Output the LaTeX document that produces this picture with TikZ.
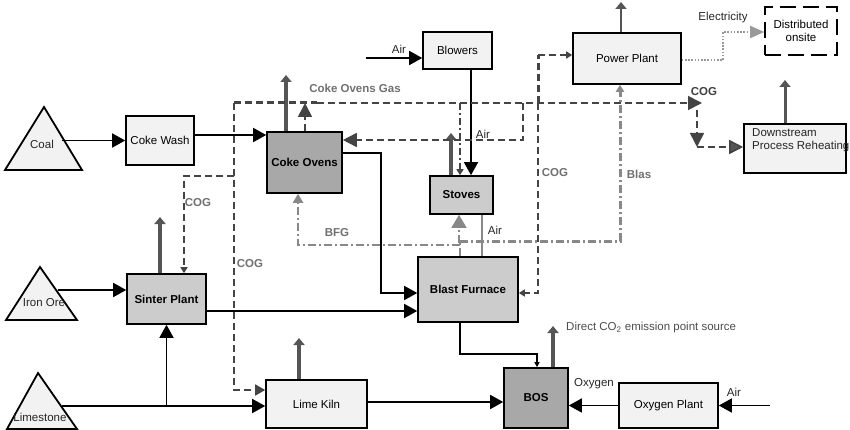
\documentclass[tikz,border=0pt]{standalone}
\usepackage{fontspec}
\setmainfont{Liberation Sans}
\usetikzlibrary{arrows.meta,calc}
\definecolor{light}{HTML}{F2F2F2}
\definecolor{mid}{HTML}{CCCCCC}
\definecolor{dark}{HTML}{A8A8A8}
\definecolor{heavyc}{HTML}{555555}
\definecolor{cogc}{HTML}{444444}
\definecolor{bfgc}{HTML}{888888}
\definecolor{labc}{HTML}{707070}
\definecolor{elecc}{HTML}{999999}
\newcommand\myfs{\fontsize{11.5}{13}\selectfont}
\tikzset{
  box/.style={draw=black, line width=1.6pt, inner sep=1pt, font=\myfs},
  lightbox/.style={box, fill=light},
  midbox/.style={box, fill=mid, font=\myfs\bfseries},
  darkbox/.style={box, fill=dark, font=\myfs\bfseries},
  dashbox/.style={box, fill=white, dash pattern=on 16pt off 7pt, align=center},
  tri/.style={draw=black, line width=1.8pt, fill=light, line join=miter},
  lab/.style={font=\myfs, inner sep=0pt, text=black!85},
  glab/.style={font=\myfs\bfseries, inner sep=0pt, text=labc},
  flow/.style={draw=black, line width=1.5pt, -{Triangle[length=13pt,width=14pt]}},
  smallflow/.style={draw=black, line width=1.5pt, -{Triangle[length=5pt,width=5pt]}},
  heavy/.style={draw=heavyc, line width=3.6pt, -{Triangle[length=7pt,width=11pt]}},
  cog/.style={draw=cogc, line width=1.6pt, dash pattern=on 7pt off 4pt},
  cogthick/.style={cog, line width=3pt},
  cogdd/.style={draw=cogc, line width=1.6pt, dash pattern=on 7pt off 3pt on 2pt off 3pt},
  bigtip/.style={-{Triangle[length=14pt,width=14pt]}},
  midtip/.style={-{Triangle[length=10pt,width=11pt]}},
  smalltip/.style={-{Triangle[length=6pt,width=7pt]}},
  bfg/.style={draw=bfgc, line width=1.6pt, dash pattern=on 8pt off 3pt on 2pt off 3pt},
  bfgthick/.style={bfg, line width=3pt},
  airline/.style={draw=bfgc, line width=1.4pt},
  elec/.style={draw=elecc, line width=1.8pt, dash pattern=on 1.6pt off 1.6pt}
}
\begin{document}
\begin{tikzpicture}[x=1pt,y=-1pt]
\useasboundingbox (0,0) rectangle (850,430);

% raw materials (triangles)
\draw[tri] (5,170) -- (44,107) -- (82,170) -- cycle;
\node[lab] (coal) at (42,144) {Coal};
\coordinate (coalout) at (62,140.5);
\draw[tri] (6,320) -- (40,267) -- (77,320) -- cycle;
\node[lab] (iron) at (44,303) {Iron Ore};
\coordinate (ironout) at (58,290);
\draw[tri] (7,429) -- (38,373) -- (77,429) -- cycle;
\node[lab] (lime) at (40,417) {Limestone};
\coordinate (limeout) at (62,406);

% process boxes
\node[lightbox, minimum width=68pt, minimum height=49pt] (cw) at (160,140.5) {Coke Wash};
\node[darkbox, minimum width=75pt, minimum height=61pt] (co) at (304.5,162.5) {Coke Ovens};
\node[lightbox, minimum width=69pt, minimum height=37pt] (bl) at (457.5,50.5) {Blowers};
\node[midbox, minimum width=63pt, minimum height=38pt] (st) at (461.5,195) {Stoves};
\node[lightbox, minimum width=108pt, minimum height=51pt] (pp) at (627,58.5) {Power Plant};
\node[dashbox, minimum width=72pt, minimum height=48pt] (ds) at (801,31) {Distributed\\onsite};
\node[lightbox, minimum width=102pt, minimum height=49pt] (dp) at (795,148.5) {};
\node[lab, anchor=north west, align=left] (dptext) at (752,128) {Downstream\\Process Reheating};
\node[midbox, minimum width=79pt, minimum height=50pt] (sp) at (166.5,299) {Sinter Plant};
\node[midbox, minimum width=100pt, minimum height=65pt] (bf) at (468,289.5) {Blast Furnace};
\node[lightbox, minimum width=101pt, minimum height=48pt] (lk) at (316.5,404) {Lime Kiln};
\node[darkbox, minimum width=64pt, minimum height=60pt] (bos) at (536,398) {BOS};
\node[lightbox, minimum width=99pt, minimum height=45pt] (op) at (668.5,405.5) {Oxygen Plant};

% solid material flows
\draw[flow] (coalout) -- (cw.west |- coalout);
\draw[flow] (cw.east |- 0,135) -- (co.west |- 0,135);
\draw[flow] (ironout) -- (sp.west |- ironout);
\coordinate (limej) at (166.5,406);
\draw[flow] (limeout) -- (lk.west |- limeout);
\draw[flow] (limej) -- (sp.south);
\draw[flow] (sp.east |- 0,311) -- (bf.west |- 0,311);
\draw[flow] (co.east |- 0,153) -- (381,153) -- (381,293) -- (bf.west |- 0,293);
\draw[flow] (lk.east |- 0,402) -- (bos.west |- 0,402);
\draw[flow] (op.west) -- (bos.east |- op.west);
\coordinate (airop) at (770,405.5);
\draw[flow] (airop) -- (op.east);
\coordinate (airbl) at (366,58);
\draw[flow] (airbl) -- (bl.west |- airbl);
\draw[flow] (bl.south -| 471,0) -- (st.north -| 471,0);
\draw[smallflow] (bf.south -| 460,0) -- (460,354) -- (537,354) -- (bos.north -| 537,0);

% direct emissions
\draw[heavy] (co.north -| 286,0) -- (286,75);
\draw[heavy] (st.north -| 451,0) -- (451,133);
\draw[heavy] (sp.north -| 160,0) -- (160,217);
\draw[heavy] (lk.north -| 299,0) -- (299,338);
\draw[heavy] (bos.north -| 553,0) -- (553,326);
\draw[heavy, line width=2.6pt] (pp.north -| 621,0) -- (621,2);
\draw[heavy, line width=3pt] (dp.north -| 785,0) -- (785,80);

% coke oven gas network
\coordinate (hL) at (234,103);
\coordinate (hM) at (317,103);
\draw[cogthick] (hL) -- (hM);
\draw[cog, bigtip] (hM) -- (702,103);
\draw[cog, bigtip] (697,110) -- (697,147);
\draw[cog, -{Triangle[length=14pt,width=14pt,fill=heavyc]}] (697,147) -- (dp.west |- 0,147);
\draw[cog, midtip] (hL) -- (234,390) -- (lk.west |- 0,390);
\draw[cog, smalltip] (234,176) -- (184,176) -- (sp.north -| 184,0);
\draw[cog, bigtip] (co.north -| 305,0) -- (305,103);
\draw[cog, bigtip] (523,103) -- (523,140) -- (co.east |- 0,140);
\draw[cogdd, smalltip] (460,103) -- (st.north -| 460,0);
\draw[cogthick] (538,103) -- (538,55);
\draw[cog, smalltip] (538,55) -- (pp.west |- 0,55);
\draw[cog, smalltip] (538,103) -- (538,293) -- (bf.east |- 0,293);

% blast furnace gas network
\draw[bfg] (bf.north -| 460,0) -- (460,243);
\draw[bfg, line width=2.2pt, -{Triangle[length=9pt,width=10pt]}] (460,245) -- (298,245) -- (co.south -| 298,0);
\draw[bfg, -{Triangle[length=13pt,width=15pt]}] (459,243) -- (st.south -| 459,0);
\draw[bfgthick, -{Triangle[length=7pt,width=8pt]}] (460,241) -- (620,241) -- (pp.south -| 620,0);
\draw[airline] (st.south -| 482,0) -- (bf.north -| 482,0);

% electricity
\draw[elec, -{Triangle[length=14pt,width=12pt,fill=elecc]}] (pp.east |- 0,60) -- (723,60) -- (723,32) -- (ds.west |- 0,32);

% labels
\node[glab] (lcog) at (355,88) {Coke Ovens Gas};
\node[glab] (lcog1) at (198,203) {COG};
\node[glab] (lcog2) at (250,264) {COG};
\node[glab] (lcog3) at (555,173) {COG};
\node[glab, text=black!75] (lcog4) at (704,92) {COG};
\node[glab] (lbfg) at (337,233) {BFG};
\node[glab] (lblas) at (639,174) {Blas};
\node[lab] (lair1) at (399,49) {Air};
\node[lab] (lair2) at (483,134) {Air};
\node[lab] (lair3) at (495,230) {Air};
\node[lab] (lair4) at (734,392) {Air};
\node[lab] (lelec) at (723,18) {Electricity};
\node[lab] (loxy) at (594,384) {Oxygen};
\node[lab, anchor=west, text=black!70] (lco2) at (566,328) {Direct CO\textsubscript{2} emission point source};
\end{tikzpicture}
\end{document}
